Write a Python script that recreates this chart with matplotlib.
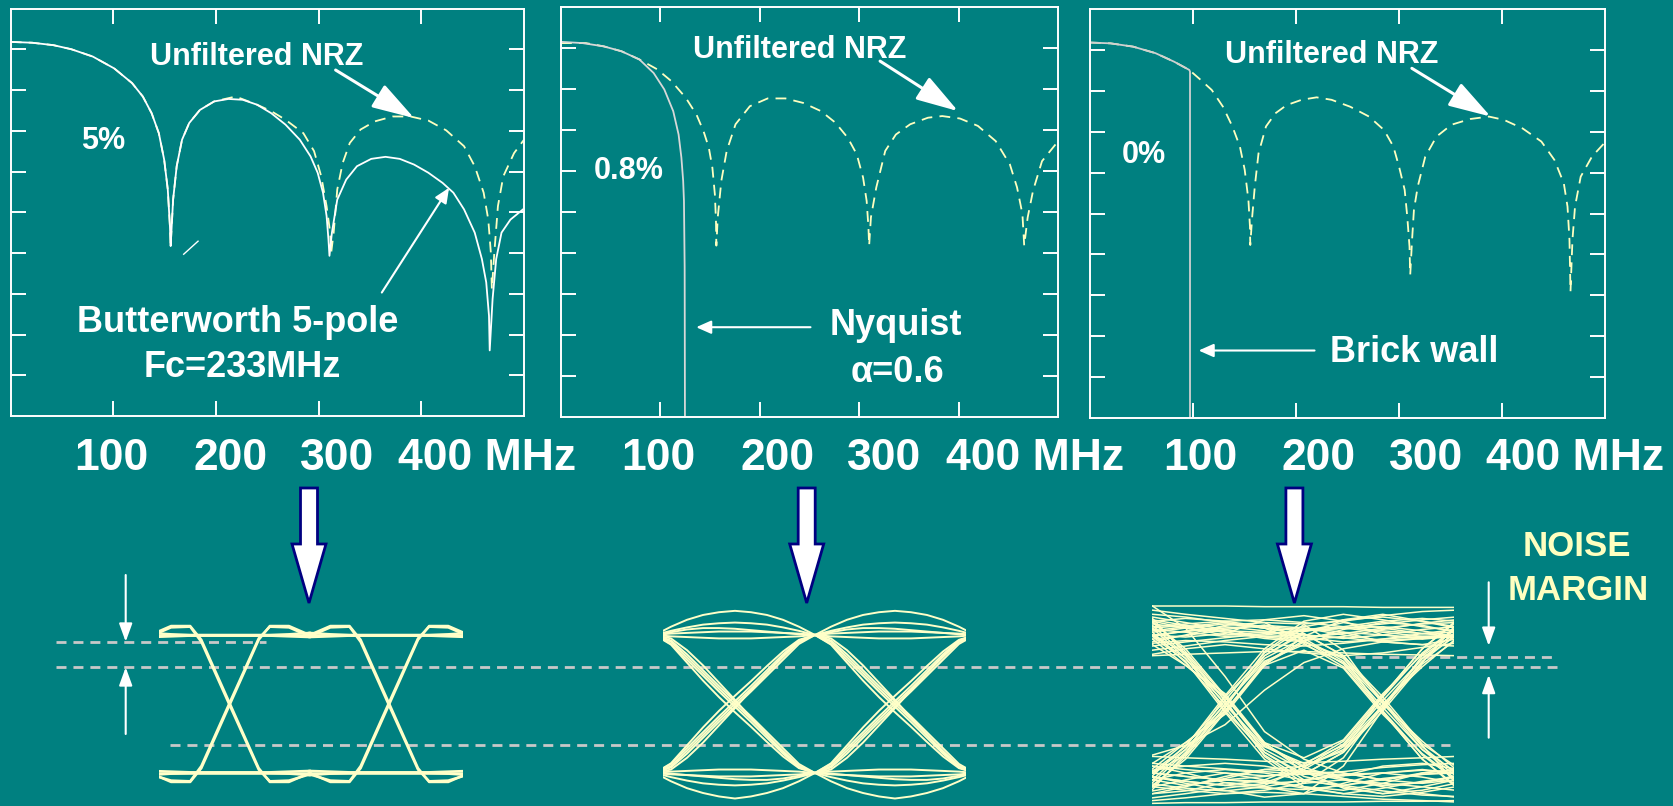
import matplotlib
matplotlib.use("Agg")
import matplotlib.pyplot as plt
import numpy as np

W, H = 1674, 806
BG = "#008080"
NRZ_COLOR = "#ffffc0"
EYE_COLOR = "#ffffc8"

# spectrum panels: frequency in MHz, level in dB
FREQ_TICKS = [100, 200, 300, 400]
TICK_TEXT = ["100", "200", "300", "400 MHz"]

NRZ1_MHZ = [0, 20.9, 41.7, 59.1, 80.0, 100.8, 118.2, 128.7, 137.3, 144.3, 149.5, 153.0, 155.1, 155.8,
            158.2, 161.7, 166.9, 173.9, 184.3, 198.2, 219.1, 239.9, 253.8, 267.7, 285.1, 295.5, 302.5,
            307.7, 311.2, 312.2, 314.6, 318.1, 323.4, 330.3, 340.8, 354.7, 372.0, 389.4, 406.8, 424.2,
            441.6, 452.0, 460.7, 465.2, 467.7, 468.7, 471.1, 474.6, 479.8, 490.3, 500.0]
NRZ1_DB = [-8.2, -8.4, -9.0, -10.0, -11.8, -14.7, -18.3, -21.6, -25.7, -30.6, -37.1, -44.4, -53.4, -58.3,
           -46.9, -38.7, -32.2, -28.1, -24.9, -22.8, -21.6, -23.6, -25.2, -27.3, -30.6, -35.0, -41.2,
           -48.5, -55.0, -59.9, -55.0, -44.4, -37.9, -33.0, -29.7, -27.7, -26.5, -26.5, -27.5, -29.9,
           -33.8, -38.7, -45.2, -51.8, -59.9, -68.9, -59.9, -48.5, -41.2, -35.5, -32.2]

BW_MHZ = [0, 20.9, 41.7, 59.1, 80.0, 100.8, 118.2, 128.7, 137.3, 144.3, 149.5, 153.0, 155.1, 155.8,
          158.2, 161.7, 166.9, 173.9, 184.3, 198.2, 212.1, 226.0, 239.9, 253.8, 267.7, 281.6, 292.1,
          299.0, 304.2, 307.7, 309.5, 310.5, 312.9, 318.1, 326.8, 337.3, 351.2, 365.1, 379.0, 392.9,
          406.8, 420.7, 431.2, 441.6, 452.0, 459.0, 463.2, 465.9, 466.6, 469.4, 472.9, 478.1, 486.8, 499.0]
BW_DB = [-8.2, -8.4, -9.0, -10.0, -11.8, -14.7, -18.3, -21.6, -25.7, -30.6, -37.1, -44.4, -53.4, -58.3,
         -46.9, -38.7, -32.2, -28.1, -24.9, -22.8, -22.2, -22.4, -23.6, -25.7, -28.5, -32.2, -36.3,
         -40.3, -45.2, -50.9, -56.6, -60.7, -55.0, -46.9, -42.0, -38.7, -36.9, -36.4, -36.9, -38.3,
         -40.3, -42.8, -45.2, -49.3, -55.0, -61.5, -67.2, -75.4, -83.9, -71.3, -61.5, -55.0, -51.8, -49.3]
STRAY_MHZ = [168.5, 182.5]
STRAY_DB = [-60.3, -57.1]

NRZ2_MHZ = [0, 25.1, 43.0, 60.9, 78.9, 96.8, 111.1, 125.4, 136.2, 143.4, 148.7, 152.3, 154.8, 155.9,
            156.3, 157.7, 161.3, 166.7, 175.6, 190.0, 207.9, 225.8, 243.7, 261.6, 276.0, 288.5, 297.5,
            303.9, 307.5, 309.3, 310.0, 311.8, 317.2, 326.2, 336.9, 351.3, 369.2, 383.5, 401.4, 419.4,
            437.3, 451.6, 458.8, 464.2, 466.0, 469.5, 474.9, 483.9, 498.9]
NRZ2_DB = [-8.8, -8.8, -9.6, -10.8, -12.8, -15.2, -18.1, -22.1, -26.2, -30.3, -34.3, -39.2, -45.7, -52.1,
           -58.2, -51.3, -42.4, -35.1, -28.6, -24.2, -22.3, -22.3, -23.4, -25.4, -28.2, -31.9, -35.9,
           -41.6, -47.3, -53.8, -58.2, -51.3, -44.0, -35.1, -31.1, -28.6, -27.0, -26.6, -27.2, -29.0,
           -32.7, -38.4, -44.0, -50.5, -58.2, -51.3, -44.8, -37.6, -33.1]

NYQ_MHZ = [0, 21.5, 43.0, 60.9, 78.9, 93.2, 103.9, 112.9, 118.3, 121.1, 122.9, 123.7, 124.4, 124.7]
NYQ_DB = [-8.5, -8.8, -9.6, -10.8, -12.8, -16.1, -20.1, -25.4, -31.1, -36.7, -42.4, -47.3, -63.5, -100.0]

NRZ3_MHZ = [0, 20.0, 41.8, 63.6, 81.8, 96.4, 107.3, 118.2, 129.1, 138.2, 145.5, 150.2, 153.8, 155.3,
            155.6, 157.5, 160.0, 163.6, 170.9, 180.0, 190.9, 205.5, 220.0, 234.5, 252.7, 270.9, 285.5,
            294.5, 300.0, 305.5, 308.0, 310.2, 310.9, 312.7, 314.5, 318.2, 325.5, 336.4, 350.9, 369.1,
            387.3, 401.8, 420.0, 438.2, 450.9, 460.0, 463.6, 465.5, 466.5, 468.4, 470.9, 476.4, 487.3, 499.3]
NRZ3_DB = [-8.2, -8.4, -9.2, -10.8, -12.9, -14.9, -17.3, -19.8, -23.9, -28.7, -33.6, -39.3, -46.7, -53.2,
           -57.7, -50.7, -43.4, -35.3, -28.7, -25.5, -23.5, -22.2, -21.6, -22.2, -23.9, -26.3, -29.6,
           -33.6, -38.5, -44.2, -50.7, -58.1, -65.0, -56.4, -49.1, -43.4, -36.1, -31.2, -28.3, -26.9,
           -26.3, -27.1, -29.2, -32.4, -36.9, -42.6, -48.3, -56.4, -69.1, -56.4, -48.3, -41.0, -36.1, -32.8]

BRICK_MHZ = [0, 20.0, 41.8, 63.6, 81.8, 96.4, 97.1, 97.1]
BRICK_DB = [-8.2, -8.4, -9.2, -10.8, -12.9, -14.9, -15.3, -100.0]

# eye diagrams: time in unit intervals around each crossing, amplitude normalised to +-1
CROSSINGS = [0, 1]

E1_T = [-0.5, -0.37, -0.25, -0.18, 0.0, 0.18, 0.25, 0.37, 0.5]
E1_FALL = [[1.0, 1.13, 1.13, 0.93, 0.0, -0.93, -1.13, -1.13, -1.0],
           [0.98, 1.11, 1.12, 0.9, -0.03, -0.95, -1.12, -1.11, -1.02]]
E1_RISE = [[-1.0, -1.13, -1.13, -0.93, 0.0, 0.93, 1.13, 1.13, 1.0],
           [-1.02, -1.11, -1.12, -0.9, 0.03, 0.95, 1.12, 1.11, 0.98]]
E1_HIGH = [[1.0, 1.0, 1.0, 1.0, 1.0, 1.0, 1.0, 1.0, 1.0],
           [1.03, 1.01, 1.0, 1.0, 1.0, 1.0, 1.0, 1.01, 1.03],
           [0.97, 0.98, 0.99, 0.99, 0.99, 0.99, 0.99, 0.98, 0.97]]
E1_LOW = [[-1.0, -1.0, -1.0, -1.0, -1.0, -1.0, -1.0, -1.0, -1.0],
          [-1.03, -1.01, -1.0, -1.0, -1.0, -1.0, -1.0, -1.01, -1.03],
          [-0.97, -0.98, -0.99, -0.99, -0.99, -0.99, -0.99, -0.98, -0.97]]

E2_T = [-0.5, -0.4, -0.3, -0.2, -0.1, 0.0, 0.1, 0.2, 0.3, 0.4, 0.5]
E2_FALL = [[1.0, 0.92, 0.72, 0.49, 0.26, 0.04, -0.18, -0.41, -0.64, -0.87, -1.0],
           [1.0, 0.9, 0.68, 0.45, 0.22, 0.0, -0.22, -0.45, -0.68, -0.9, -1.0],
           [1.0, 0.87, 0.64, 0.41, 0.18, -0.04, -0.26, -0.49, -0.72, -0.92, -1.0],
           [1.0, 0.95, 0.78, 0.56, 0.31, 0.06, -0.2, -0.45, -0.7, -0.9, -1.0],
           [1.0, 0.86, 0.6, 0.34, 0.1, -0.12, -0.33, -0.55, -0.76, -0.93, -1.0]]
E2_RISE = [[-1.0, -0.92, -0.72, -0.49, -0.26, -0.04, 0.18, 0.41, 0.64, 0.87, 1.0],
           [-1.0, -0.9, -0.68, -0.45, -0.22, 0.0, 0.22, 0.45, 0.68, 0.9, 1.0],
           [-1.0, -0.87, -0.64, -0.41, -0.18, 0.04, 0.26, 0.49, 0.72, 0.92, 1.0],
           [-1.0, -0.95, -0.78, -0.56, -0.31, -0.06, 0.2, 0.45, 0.7, 0.9, 1.0],
           [-1.0, -0.86, -0.6, -0.34, -0.1, 0.12, 0.33, 0.55, 0.76, 0.93, 1.0]]
E2_HIGH = [[1.0, 1.12, 1.22, 1.29, 1.33, 1.35, 1.33, 1.29, 1.22, 1.12, 1.0],
           [1.0, 1.06, 1.11, 1.15, 1.17, 1.18, 1.17, 1.15, 1.11, 1.06, 1.0],
           [1.0, 1.02, 1.03, 1.04, 1.05, 1.05, 1.05, 1.04, 1.03, 1.02, 1.0],
           [1.0, 0.98, 0.97, 0.96, 0.95, 0.95, 0.95, 0.96, 0.97, 0.98, 1.0],
           [1.0, 1.04, 1.08, 1.1, 1.1, 1.09, 1.07, 1.05, 1.03, 1.01, 1.0]]
E2_LOW = [[-1.0, -1.12, -1.22, -1.29, -1.34, -1.37, -1.34, -1.29, -1.22, -1.12, -1.0],
          [-1.0, -1.06, -1.11, -1.15, -1.17, -1.18, -1.17, -1.15, -1.11, -1.06, -1.0],
          [-1.0, -1.02, -1.03, -1.04, -1.05, -1.05, -1.05, -1.04, -1.03, -1.02, -1.0],
          [-1.0, -0.98, -0.97, -0.96, -0.95, -0.95, -0.95, -0.96, -0.97, -0.98, -1.0],
          [-1.0, -1.01, -1.03, -1.05, -1.07, -1.09, -1.1, -1.1, -1.08, -1.04, -1.0]]

E3_T = [-0.46, -0.25, 0.0, 0.25, 0.5, 0.75, 1.0, 1.25, 1.46]
E3_TRACES = [
    [1.42, 1.42, 1.42, 1.41, 1.41, 1.41, 1.40, 1.40, 1.40],
    [1.20, 1.24, 1.20, 1.12, 1.08, 1.12, 1.20, 1.24, 1.20],
    [1.08, 1.04, 0.98, 1.00, 1.06, 1.10, 1.04, 0.98, 1.00],
    [0.94, 0.99, 1.08, 1.14, 1.10, 1.00, 0.92, 0.95, 1.00],
    [1.04, 1.10, 1.16, 1.10, 1.00, 0.95, 1.00, 1.08, 1.12],
    [0.84, 0.90, 0.96, 1.02, 1.06, 1.10, 1.12, 1.06, 0.98],
    [1.16, 1.10, 1.04, 0.98, 0.96, 1.02, 1.10, 1.16, 1.18],
    [0.70, 0.72, 0.74, 0.76, 0.76, 0.74, 0.72, 0.71, 0.70],
    [1.00, 0.97, 1.02, 1.22, 1.28, 1.20, 1.00, 0.94, 0.98],
    [1.26, 1.18, 1.08, 0.97, 0.92, 0.98, 1.08, 1.17, 1.22],
    [1.30, 1.26, 1.18, 1.10, 1.06, 1.10, 1.16, 1.22, 1.26],
    [0.88, 0.92, 0.90, 0.86, 0.84, 0.88, 0.94, 0.98, 0.96],
    [1.12, 1.16, 1.20, 1.22, 1.18, 1.12, 1.06, 1.02, 1.04],
    [0.78, 0.84, 0.92, 0.98, 1.00, 0.96, 0.90, 0.86, 0.84],
    [1.22, 1.14, 1.06, 1.04, 1.12, 1.22, 1.26, 1.20, 1.12],
    [0.98, 1.06, 1.12, 1.06, 0.96, 0.90, 0.94, 1.02, 1.08],
    [1.36, 1.30, 1.24, 1.18, 1.16, 1.20, 1.28, 1.34, 1.36],
    [0.72, 0.80, 0.86, 0.80, 0.74, 0.70, 0.74, 0.82, 0.88],
    [1.00, 1.05, 1.10, 1.14, 0.95, 0.62, 0.02, -0.66, -0.98],
    [1.20, 1.10, 1.00, 1.04, 1.02, 0.70, 0.10, -0.58, -0.90],
    [0.90, 1.00, 1.14, 1.18, 0.92, 0.58, -0.10, -0.74, -1.10],
    [1.10, 1.14, 1.04, 0.95, 0.90, 0.66, 0.05, -0.62, -1.00],
    [1.06, 1.12, 1.18, 1.10, 0.88, 0.54, -0.12, -0.80, -1.18],
    [1.10, 0.66, 0.00, -0.62, -0.86, -0.60, 0.05, 0.66, 1.04],
    [1.24, 0.72, -0.10, -0.70, -1.02, -0.70, -0.05, 0.60, 1.14],
    [0.94, 0.56, 0.10, -0.56, -0.78, -0.52, 0.15, 0.72, 1.08],
    [1.00, 0.74, 0.05, -0.76, -1.15, -0.78, 0.00, 0.54, 0.94],
    [1.18, 0.80, 0.12, -0.58, -0.90, -0.68, 0.12, 0.80, 1.20],
    [1.00, 0.66, 0.00, -0.66, -0.96, -1.04, -1.00, -0.96, -1.00],
    [1.20, 0.76, 0.10, -0.60, -0.92, -1.08, -1.18, -1.14, -1.04],
    [1.04, 0.60, -0.05, -0.74, -1.10, -1.04, -0.90, -0.86, -0.94],
    [0.86, 0.56, 0.15, -0.56, -0.98, -1.22, -1.30, -1.20, -1.10],
    [1.14, 0.70, 0.05, -0.70, -1.05, -1.18, -1.10, -1.02, -0.98],
    [0.98, 0.62, -0.12, -0.80, -1.20, -1.30, -1.22, -1.12, -1.06],
    [-1.44, -1.43, -1.43, -1.42, -1.42, -1.42, -1.41, -1.41, -1.40],
    [-1.20, -1.25, -1.30, -1.25, -1.15, -1.10, -1.15, -1.20, -1.25],
    [-1.00, -1.05, -1.10, -1.05, -0.98, -1.00, -1.10, -1.15, -1.10],
    [-0.90, -0.95, -1.00, -1.10, -1.20, -1.25, -1.15, -1.00, -0.95],
    [-1.10, -1.00, -0.95, -1.00, -1.10, -1.20, -1.30, -1.25, -1.15],
    [-0.76, -0.78, -0.80, -0.83, -0.85, -0.83, -0.80, -0.78, -0.76],
    [-1.30, -1.20, -1.05, -0.95, -0.98, -1.08, -1.20, -1.30, -1.35],
    [-1.05, -1.15, -1.25, -1.35, -1.30, -1.15, -1.00, -0.95, -1.00],
    [-1.36, -1.30, -1.22, -1.15, -1.12, -1.18, -1.26, -1.32, -1.34],
    [-0.86, -0.90, -0.94, -0.98, -1.02, -0.98, -0.92, -0.88, -0.86],
    [-1.16, -1.22, -1.26, -1.20, -1.10, -1.02, -1.00, -1.06, -1.14],
    [-0.96, -0.90, -0.86, -0.90, -1.00, -1.10, -1.18, -1.14, -1.06],
    [-1.26, -1.18, -1.10, -1.12, -1.22, -1.30, -1.34, -1.28, -1.20],
    [-1.06, -1.12, -1.18, -1.22, -1.24, -1.18, -1.08, -1.02, -1.00],
    [-1.40, -1.36, -1.30, -1.28, -1.30, -1.34, -1.38, -1.40, -1.42],
    [-1.00, -1.05, -1.10, -1.14, -0.95, -0.62, -0.02, 0.66, 0.98],
    [-1.20, -1.10, -1.00, -1.04, -1.02, -0.70, -0.10, 0.58, 0.92],
    [-0.90, -1.00, -1.14, -1.18, -0.92, -0.58, 0.10, 0.74, 1.10],
    [-1.10, -1.18, -1.08, -0.95, -0.90, -0.66, -0.05, 0.62, 1.00],
    [-1.06, -1.12, -1.18, -1.10, -0.88, -0.54, 0.12, 0.80, 1.18],
    [-1.30, -1.26, -1.14, -1.20, -1.30, -0.90, -0.08, 0.70, 1.02],
    [-1.10, -0.66, 0.00, 0.62, 0.86, 0.60, -0.05, -0.66, -1.04],
    [-1.24, -0.72, 0.10, 0.70, 1.02, 0.70, 0.05, -0.60, -1.14],
    [-0.94, -0.56, -0.10, 0.56, 0.78, 0.52, -0.15, -0.72, -1.08],
    [-1.00, -0.74, -0.05, 0.76, 1.15, 0.78, 0.00, -0.54, -0.94],
    [-1.18, -0.80, -0.12, 0.58, 0.90, 0.68, -0.12, -0.80, -1.20],
    [-1.00, -0.66, 0.00, 0.66, 0.96, 1.04, 1.00, 0.96, 1.00],
    [-1.20, -0.76, -0.10, 0.60, 0.92, 1.08, 1.18, 1.14, 1.04],
    [-1.04, -0.60, 0.05, 0.74, 1.10, 1.04, 0.90, 0.86, 0.94],
    [-0.86, -0.56, -0.15, 0.56, 0.98, 1.22, 1.30, 1.20, 1.10],
    [-1.14, -0.70, -0.05, 0.70, 1.05, 1.18, 1.10, 1.02, 0.98],
    [-0.98, -0.62, 0.12, 0.80, 1.20, 1.30, 1.22, 1.12, 1.06],
    [1.42, 1.10, 0.40, -0.40, -0.80, -1.00, -1.10, -1.00, -0.95],
    [-0.74, -0.60, -0.30, 0.20, 0.60, 0.80, 0.90, 0.95, 1.00],
]

plt.rcParams['font.family'] = ['Liberation Sans', 'DejaVu Sans']
plt.rcParams['font.weight'] = 'bold'

fig = plt.figure(figsize=(W / 100, H / 100), dpi=100, facecolor=BG)


def px_axes(x0, y0, x1, y1):
    return fig.add_axes([x0 / W, 1 - y1 / H, (x1 - x0) / W, (y1 - y0) / H])


def spectrum_axes(x0, y0, x1, y1):
    ax = px_axes(x0, y0, x1, y1)
    ax.set_facecolor("none")
    ax.set_xlim(0, 500)
    ax.set_ylim(-100, 0)
    ax.set_xticks(FREQ_TICKS)
    ax.set_yticks(range(-90, 0, 10))
    ax.tick_params(direction="in", length=11, width=1.4, color="white", top=True, right=True,
                   labelbottom=False, labelleft=False)
    for s in ax.spines.values():
        s.set_color("white")
        s.set_linewidth(1.4)
    return ax


def note(ax, text, fx, fy, size, color="white"):
    ax.text(fx, 1 - fy, text, transform=ax.transAxes, ha="center", va="center",
            color=color, fontsize=size, fontweight="bold")


def pointer(ax, tail, tip, big=False):
    if big:
        style, lw = "-|>,head_length=26,head_width=8", 2.2
    else:
        style, lw = "-|>,head_length=9,head_width=4", 1.5
    ax.annotate("", xy=(tip[0], 1 - tip[1]), xytext=(tail[0], 1 - tail[1]), xycoords="axes fraction",
                arrowprops=dict(arrowstyle=style, mutation_scale=1, color="white", lw=lw,
                                shrinkA=0, shrinkB=0))


# overlay in pixel units for the slide furniture
ov = px_axes(0, 0, W, H)
ov.set_xlim(0, W)
ov.set_ylim(H, 0)
ov.axis("off")

# spectra
ax1 = spectrum_axes(10.7, 8.5, 524, 416)
ax1.plot(NRZ1_MHZ, NRZ1_DB, color=NRZ_COLOR, lw=1.3, dashes=(6, 4))
ax1.plot(BW_MHZ, BW_DB, color="white", lw=1.3)
ax1.plot(STRAY_MHZ, STRAY_DB, color="white", lw=1)
note(ax1, "Unfiltered NRZ", 0.48, 0.118, 22)
pointer(ax1, (0.633, 0.151), (0.786, 0.269), big=True)
note(ax1, "5%", 0.181, 0.326, 22)
note(ax1, "Butterworth 5-pole", 0.442, 0.770, 26)
note(ax1, "Fc=233MHz", 0.452, 0.880, 26)
pointer(ax1, (0.723, 0.697), (0.854, 0.440))

ax2 = spectrum_axes(561, 7, 1058, 417)
ax2.plot(NRZ2_MHZ, NRZ2_DB, color=NRZ_COLOR, lw=1.3, dashes=(6, 4))
ax2.plot(NYQ_MHZ, NYQ_DB, color="#d8d8d8", lw=1.3)
note(ax2, "Unfiltered NRZ", 0.48, 0.106, 22)
pointer(ax2, (0.642, 0.132), (0.799, 0.254), big=True)
note(ax2, "0.8%", 0.136, 0.400, 22)
note(ax2, "Nyquist", 0.674, 0.777, 26)
note(ax2, "\u03b1=0.6", 0.677, 0.891, 26)
pointer(ax2, (0.502, 0.781), (0.272, 0.781))

ax3 = spectrum_axes(1090, 9, 1605, 418)
ax3.plot(NRZ3_MHZ, NRZ3_DB, color=NRZ_COLOR, lw=1.3, dashes=(6, 4))
ax3.plot(BRICK_MHZ, BRICK_DB, color="#d0d0d0", lw=1.3)
note(ax3, "Unfiltered NRZ", 0.469, 0.112, 22)
pointer(ax3, (0.625, 0.145), (0.778, 0.263), big=True)
note(ax3, "0%", 0.105, 0.357, 22)
note(ax3, "Brick wall", 0.629, 0.841, 26)
pointer(ax3, (0.436, 0.835), (0.211, 0.835))

# frequency labels under each panel
label_x = [[111.6, 231, 337, 398], [658, 778, 884, 946], [1200, 1319, 1426, 1486]]
for row in label_x:
    for text, x in zip(TICK_TEXT, row):
        ov.text(x, 458, text, ha="left" if "MHz" in text else "center", va="center",
                color="white", fontsize=32, fontweight="bold")

# noise margin reference lines
for y, xa, xb in [(641.7, 56, 266), (667.3, 56, 1557), (745, 170, 1450), (656.7, 1355, 1557)]:
    ov.plot([xa, xb], [y, y], color="#c8c8c8", lw=2, dashes=(3.6, 2.5))

# big arrows from spectrum to eye
for cx in [309, 806.7, 1294.4]:
    ov.arrow(cx, 488, 0, 115, width=17, head_width=34, head_length=59, length_includes_head=True,
             facecolor="white", edgecolor="#000080", lw=2)

# noise margin markers
for x, y_top, tip_top, y_bot, tip_bot in [(125.7, 575, 641.7, 734, 667.3), (1488.7, 582.3, 645.8, 737.7, 674.9)]:
    for y0, y1 in [(y_top, tip_top), (y_bot, tip_bot)]:
        ov.annotate("", xy=(x, y1), xytext=(x, y0),
                    arrowprops=dict(arrowstyle="-|>,head_length=11,head_width=4", mutation_scale=1,
                                    color="white", lw=1.5, shrinkA=0, shrinkB=0))
ov.text(1577, 546, "NOISE", ha="center", va="center", color=NRZ_COLOR, fontsize=25, fontweight="bold")
ov.text(1578, 591, "MARGIN", ha="center", va="center", color=NRZ_COLOR, fontsize=25, fontweight="bold")


def eye_axes(x0, x1, tlim):
    ax = px_axes(x0, 600, x1, 805)
    ax.set_xlim(tlim)
    ax.set_ylim(-1.464, 1.507)
    ax.axis("off")
    return ax


e1 = eye_axes(158.8, 462.6, (-0.447, 1.46))
for c in CROSSINGS:
    t = np.array(E1_T) + c
    for v in E1_FALL + E1_RISE + E1_HIGH + E1_LOW:
        e1.plot(t, v, color=EYE_COLOR, lw=1.8)

e2 = eye_axes(663.3, 966, (-0.448, 1.444))
for c in CROSSINGS:
    t = np.array(E2_T) + c
    for v in E2_FALL + E2_RISE + E2_HIGH + E2_LOW:
        e2.plot(t, v, color=EYE_COLOR, lw=1.4)

e3 = eye_axes(1152.3, 1454.3, (-0.461, 1.453))
for v in E3_TRACES:
    e3.plot(E3_T, v, color=EYE_COLOR, lw=1.1)

fig.savefig("out.png", dpi=100, facecolor=BG)
